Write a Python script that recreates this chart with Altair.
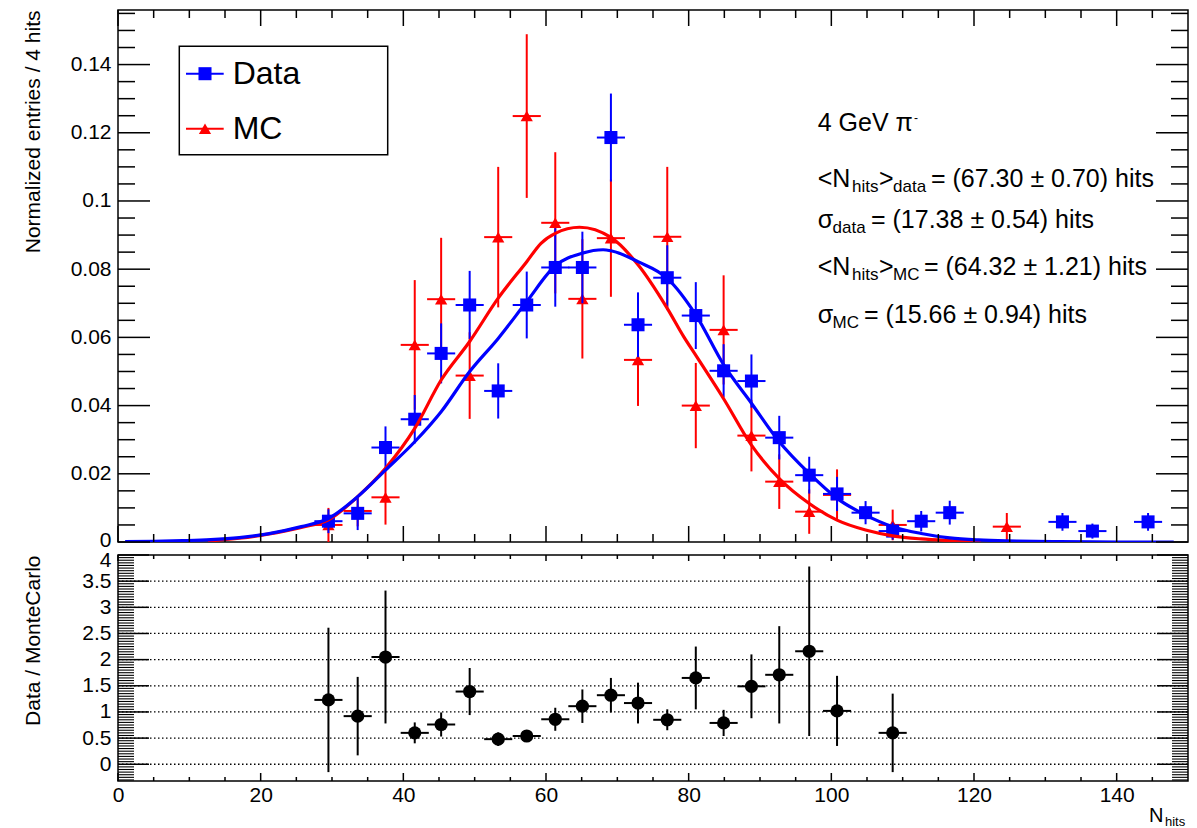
import altair as alt
import pandas as pd

# ---------------- values ----------------
data_x = [29.5, 33.6, 37.5, 41.6, 45.3, 49.3, 53.3, 57.3, 61.3, 65.1, 69.1, 72.9, 77.0,
          81.0, 84.9, 88.8, 92.7, 96.9, 100.8, 104.8, 108.6, 112.6, 116.6, 132.4, 136.6, 144.4]
data_y = [0.0061, 0.0084, 0.0277, 0.0360, 0.0553, 0.0695, 0.0443, 0.0695, 0.0805, 0.0805,
          0.1186, 0.0637, 0.0775, 0.0664, 0.0502, 0.0472, 0.0306, 0.0196, 0.0141, 0.0086,
          0.0032, 0.0061, 0.0086, 0.0059, 0.0032, 0.0059]
data_err = [0.0035, 0.0049, 0.0062, 0.0071, 0.0088, 0.0100, 0.0081, 0.0098, 0.0115, 0.0105,
            0.0129, 0.0095, 0.0095, 0.0098, 0.0078, 0.0078, 0.0064, 0.0054, 0.0050, 0.0034,
            0.0025, 0.0030, 0.0035, 0.0026, 0.0022, 0.0026]

mc_x = [29.5, 33.6, 37.5, 41.6, 45.3, 49.3, 53.3, 57.3, 61.3, 65.1, 69.1, 72.9, 77.0,
        81.0, 84.9, 88.8, 92.7, 96.9, 100.8, 108.6, 124.6]
mc_y = [0.0050, 0.0091, 0.0131, 0.0578, 0.0712, 0.0488, 0.0894, 0.1249, 0.0936, 0.0713,
        0.0891, 0.0534, 0.0895, 0.0400, 0.0622, 0.0312, 0.0177, 0.0089, 0.0138, 0.0050, 0.0045]
mc_err = [0.0050, 0.0045, 0.0080, 0.0190, 0.0180, 0.0127, 0.0206, 0.0240, 0.0207, 0.0175,
          0.0172, 0.0135, 0.0205, 0.0125, 0.0160, 0.0105, 0.0080, 0.0065, 0.0075, 0.0045, 0.0040]

ratio_x = [29.5, 33.6, 37.5, 41.6, 45.3, 49.3, 53.3, 57.3, 61.3, 65.1, 69.1, 72.9, 77.0,
           81.0, 84.9, 88.8, 92.7, 96.9, 100.8, 108.6]
ratio_y = [1.23, 0.92, 2.05, 0.60, 0.76, 1.39, 0.48, 0.54, 0.86, 1.11, 1.32, 1.17, 0.85,
           1.65, 0.79, 1.49, 1.71, 2.16, 1.02, 0.60]
ratio_err = [1.38, 0.75, 1.27, 0.20, 0.23, 0.45, 0.13, 0.10, 0.22, 0.32, 0.33, 0.39, 0.20,
             0.60, 0.25, 0.61, 0.93, 1.62, 0.67, 0.75]

half_bin = 1.97

fit_data_x = [1, 5, 9, 13, 17, 21, 25.7, 29.5, 33.6, 37.5, 41.6, 45.3, 49.3, 53.3, 57.3, 61.3,
              65.1, 68.0, 69.1, 72.9, 77.0, 81.0, 84.9, 88.8, 92.7, 96.9, 100.8, 104.8, 108.6,
              112.6, 116.6, 120.6, 126, 132, 140, 148]
fit_data_y = [0.0001, 0.0002, 0.0004, 0.0007, 0.0013, 0.0024, 0.0045, 0.0069, 0.0133, 0.0211,
              0.0294, 0.0382, 0.0500, 0.0597, 0.0705, 0.0810, 0.0847, 0.0857, 0.0854, 0.0822,
              0.0773, 0.0666, 0.0520, 0.0407, 0.0294, 0.0201, 0.0128, 0.0079, 0.0045, 0.0025,
              0.0012, 0.0006, 0.0003, 0.0001, 0.0, 0.0]

fit_mc_x = [12.6, 17, 21, 25.7, 29.5, 33.6, 37.5, 41.6, 45.3, 49.3, 53.3, 57.3, 59.3, 61.3,
            64.7, 69.1, 72.9, 77.0, 79.3, 81.1, 84.9, 88.8, 92.7, 96.9, 100.8, 104.8, 108.6,
            112.6, 116.6, 121]
fit_mc_y = [0.0003, 0.0011, 0.0023, 0.0043, 0.0065, 0.0133, 0.0216, 0.0333, 0.0475, 0.0588,
            0.0715, 0.0822, 0.0876, 0.0905, 0.0923, 0.0893, 0.0813, 0.0685, 0.0602, 0.0544,
            0.0420, 0.0284, 0.0186, 0.0113, 0.0064, 0.0035, 0.0018, 0.0009, 0.0004, 0.0]

top_y_labels = [0, 0.02, 0.04, 0.06, 0.08, 0.10, 0.12, 0.14]
bot_y_labels = [0, 0.5, 1, 1.5, 2, 2.5, 3, 3.5, 4]
x_labels = [0, 20, 40, 60, 80, 100, 120, 140]
grid_vals = [0, 0.5, 1, 1.5, 2, 2.5, 3, 3.5]

# ---------------- layout / style ----------------
W, HT, HB, GAP = 1070, 532, 226, 13
FONT = "Liberation Sans"
BLUE, RED = "#0000ff", "#ff0000"

xs = alt.Scale(domain=[0, 150], nice=False, zero=False)
yts = alt.Scale(domain=[0, 0.156], nice=False, zero=False)
ybs = alt.Scale(domain=[-0.32, 4.0], nice=False, zero=False)


def yaxis(values, title, offset_rule=None):
    kw = dict(values=values, format="~g", title=title, labelFontSize=21, labelColor="black",
              labelFont=FONT, labelPadding=7, ticks=False, tickSize=0, domain=False,
              grid=False, titleFontSize=21, titleFont=FONT, titleFontWeight="normal",
              titleColor="black", titleAnchor="end", titlePadding=25,
              minExtent=50, maxExtent=50)
    if offset_rule is not None:
        kw["labelOffset"] = offset_rule
    return alt.Axis(**kw)


YAX_T = yaxis(top_y_labels, "Normalized entries / 4 hits",
              {"condition": {"test": "datum.value == 0", "value": -2}, "value": 0})
YAX_B = yaxis(bot_y_labels, "Data / MonteCarlo",
              {"condition": {"test": "datum.value == 4", "value": 5}, "value": 0})
XAX_B = alt.Axis(values=x_labels, format="d", title=None, labelFontSize=21, labelColor="black",
                 labelFont=FONT, labelPadding=3, labelFlush=False, ticks=False, tickSize=0,
                 domain=False, grid=False)


def frame_df(x, y, err):
    df = pd.DataFrame({"x": x, "y": y, "err": err})
    df["lo"] = df["y"] - df["err"]
    df["hi"] = df["y"] + df["err"]
    df["xl"] = df["x"] - half_bin
    df["xr"] = df["x"] + half_bin
    return df


def errbars(df, color, ysc, yax, xax, sw=2):
    v = alt.Chart(df).mark_rule(color=color, strokeWidth=sw, clip=True).encode(
        x=alt.X("x:Q", scale=xs, axis=xax), y=alt.Y("lo:Q", scale=ysc, axis=yax), y2="hi:Q")
    h = alt.Chart(df).mark_rule(color=color, strokeWidth=sw, clip=True).encode(
        x=alt.X("xl:Q", scale=xs, axis=xax), x2="xr:Q", y=alt.Y("y:Q", scale=ysc, axis=yax))
    return [v, h]


def markers(df, shape, color, size, ysc, yax, xax):
    return alt.Chart(df).mark_point(shape=shape, filled=True, size=size, color=color,
                                    opacity=1, strokeWidth=0).encode(
        x=alt.X("x:Q", scale=xs, axis=xax), y=alt.Y("y:Q", scale=ysc, axis=yax))


def yticks(vals, ysc, yax, length, width, sw=1.5, dash=None):
    df = pd.DataFrame({"v": vals})
    kw = dict(color="black", strokeWidth=sw)
    if dash:
        kw["strokeDash"] = dash
    left = alt.Chart(df).mark_rule(**kw).encode(
        y=alt.Y("v:Q", scale=ysc, axis=yax), x=alt.value(0), x2=alt.value(length))
    if dash:
        return [left]
    right = alt.Chart(df).mark_rule(**kw).encode(
        y=alt.Y("v:Q", scale=ysc, axis=yax), x=alt.value(width), x2=alt.value(width - length))
    return [left, right]


def xticks(vals, xax, h, len_top, len_bot, sw=1.5):
    df = pd.DataFrame({"v": vals})
    t = alt.Chart(df).mark_rule(color="black", strokeWidth=sw).encode(
        x=alt.X("v:Q", scale=xs, axis=xax), y=alt.value(0), y2=alt.value(len_top))
    b = alt.Chart(df).mark_rule(color="black", strokeWidth=sw).encode(
        x=alt.X("v:Q", scale=xs, axis=xax), y=alt.value(h), y2=alt.value(h - len_bot))
    return [t, b]


def label(text, x, y, size, color="black"):
    return alt.Chart(pd.DataFrame({"t": [text]})).mark_text(
        align="left", baseline="middle", fontSize=size, font=FONT, color=color).encode(
        x=alt.value(x), y=alt.value(y), text="t:N")


one = pd.DataFrame({"k": [0]})

# tick value lists (axis decoration)
x_major = x_labels
x_minor = [v for v in range(5, 150, 5) if v % 20 != 0]
yt_major = top_y_labels
yt_minor = [round(0.005 * i, 3) for i in range(1, 32) if i % 4 != 0]
yb_major = bot_y_labels
yb_minor = [round(-0.3 + 0.05 * i, 2) for i in range(0, 87) if i % 10 != 6]

# ---------------- top panel ----------------
df_data = frame_df(data_x, data_y, data_err)
df_mc = frame_df(mc_x, mc_y, mc_err)
df_fit_d = pd.DataFrame({"x": fit_data_x, "y": fit_data_y})
df_fit_m = pd.DataFrame({"x": fit_mc_x, "y": fit_mc_y})

top_layers = []
top_layers += errbars(df_mc, RED, yts, YAX_T, None)
top_layers.append(markers(df_mc, "triangle-up", RED, 150, yts, YAX_T, None))
top_layers += errbars(df_data, BLUE, yts, YAX_T, None)
top_layers.append(markers(df_data, "square", BLUE, 170, yts, YAX_T, None))
for df_fit, col in [(df_fit_m, RED), (df_fit_d, BLUE)]:
    top_layers.append(alt.Chart(df_fit).mark_line(color=col, strokeWidth=3.2, clip=True,
                                                  interpolate="monotone").encode(
        x=alt.X("x:Q", scale=xs, axis=None), y=alt.Y("y:Q", scale=yts, axis=YAX_T)))
top_layers += yticks(yt_major, yts, YAX_T, 32, W)
top_layers += yticks(yt_minor, yts, YAX_T, 17, W)
top_layers += xticks(x_major, None, HT, 16, 16)
top_layers += xticks(x_minor, None, HT, 8, 8)

# legend
top_layers.append(alt.Chart(one).mark_rect(fill="white", stroke="black", strokeWidth=1.5).encode(
    x=alt.value(61.3), x2=alt.value(269.7), y=alt.value(36.3), y2=alt.value(144.7)))
for yy, col, shape, size, txt in [(63.7, BLUE, "square", 170, "Data"),
                                  (118.7, RED, "triangle-up", 150, "MC")]:
    top_layers.append(alt.Chart(one).mark_rule(color=col, strokeWidth=2).encode(
        x=alt.value(68), x2=alt.value(105.7), y=alt.value(yy)))
    top_layers.append(alt.Chart(one).mark_point(shape=shape, filled=True, size=size, color=col,
                                                opacity=1, strokeWidth=0).encode(
        x=alt.value(87), y=alt.value(yy)))
    top_layers.append(label(txt, 114.7, yy, 32))

# annotation
MAIN, SUB = 25, 17
top_layers += [
    label("4 GeV \u03c0", 699.7, 112.7, MAIN),
    label("-", 796, 107.5, 12),
    label("<N", 699.7, 169.3, MAIN), label("hits", 734, 176.8, SUB), label(">", 761, 169.3, MAIN),
    label("data", 775, 176.8, SUB), label("= (67.30 \u00b1 0.70) hits", 813, 169.3, MAIN),
    label("\u03c3", 699.7, 210, MAIN), label("data", 714.5, 217.5, SUB),
    label("= (17.38 \u00b1 0.54) hits", 753, 210, MAIN),
    label("<N", 699.7, 257, MAIN), label("hits", 734, 264.5, SUB), label(">", 761, 257, MAIN),
    label("MC", 775, 264.5, SUB), label("= (64.32 \u00b1 1.21) hits", 806, 257, MAIN),
    label("\u03c3", 699.7, 305, MAIN), label("MC", 714.5, 313, SUB),
    label("= (15.66 \u00b1 0.94) hits", 746, 305, MAIN),
]

# ---------------- bottom panel ----------------
df_ratio = frame_df(ratio_x, ratio_y, ratio_err)
bot_layers = []
bot_layers += yticks(grid_vals, ybs, YAX_B, W, W, sw=1.3, dash=[1.5, 2.5])
bot_layers += errbars(df_ratio, "black", ybs, YAX_B, XAX_B)
bot_layers.append(markers(df_ratio, "circle", "black", 175, ybs, YAX_B, XAX_B))
bot_layers += yticks(yb_major, ybs, YAX_B, 31, W)
bot_layers += yticks(yb_minor, ybs, YAX_B, 16, W, sw=1.1)
bot_layers += xticks(x_major, XAX_B, HB, 6, 8)
bot_layers += xticks(x_minor, XAX_B, HB, 4, 4)
bot_layers.append(label("N", 1031, 261, 20))
bot_layers.append(label("hits", 1047, 267, 13))

top = alt.layer(*top_layers).properties(width=W, height=HT)
bot = alt.layer(*bot_layers).properties(width=W, height=HB)

chart = alt.vconcat(top, bot, spacing=GAP, bounds="flush").properties(
    padding={"left": 21, "top": 8, "right": 4, "bottom": 0}
).configure(font=FONT).configure_view(stroke="black", strokeWidth=1.5)

chart.save("out.html", embed_options={"renderer": "svg", "actions": False})
